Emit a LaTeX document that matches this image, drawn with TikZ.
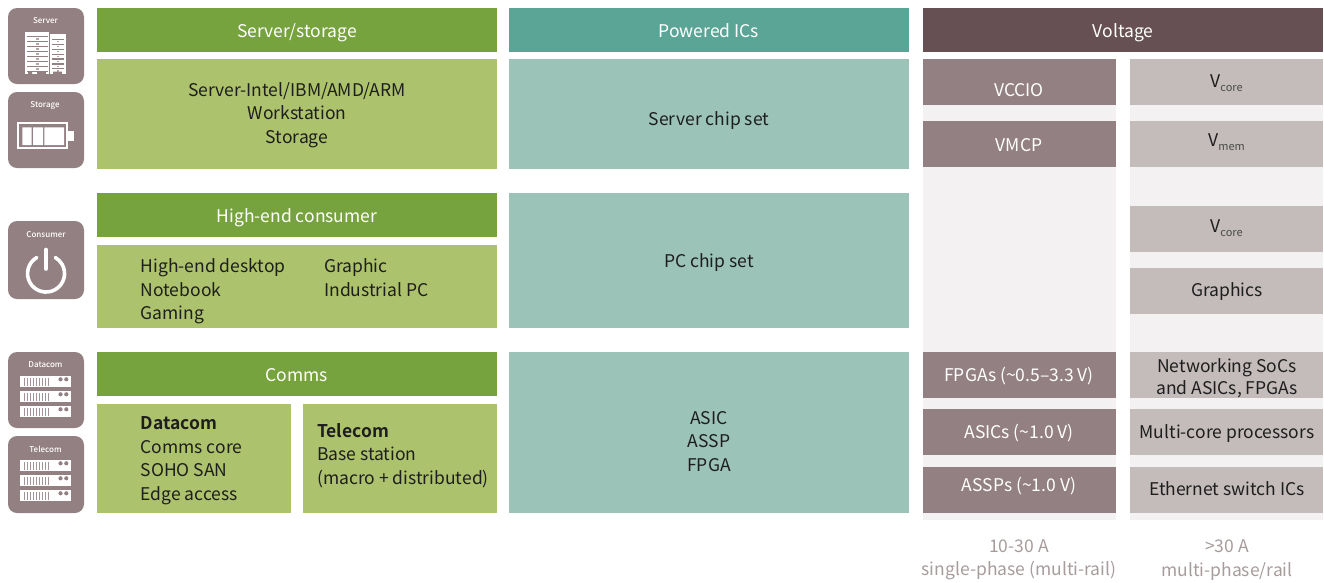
\documentclass[tikz,border=0pt]{standalone}
\usepackage{fontspec}
\setmainfont{Noto Sans CJK JP}
\newfontfamily\boldf{Noto Sans CJK JP Bold}
\newfontfamily\medf{Noto Sans CJK JP Medium}
\definecolor{dgreen}{HTML}{76A33D}
\definecolor{lgreen}{HTML}{ADC26C}
\definecolor{dteal}{HTML}{5BA596}
\definecolor{lteal}{HTML}{9BC3B8}
\definecolor{dbrown}{HTML}{675053}
\definecolor{mauve}{HTML}{938083}
\definecolor{lmauve}{HTML}{C4BBBB}
\definecolor{panelc}{HTML}{F3F1F2}
\definecolor{ink}{HTML}{1E1E1E}
\definecolor{graytxt}{HTML}{A79C9C}
\newcommand{\bx}[6]{\path[fill=#6] (#2,#3) rectangle (#4,#5) coordinate (#1);}
\newcommand{\rackrow}[2]{%
  \fill[white] (#1,#2) rectangle ++(51,11.5);
  \foreach \k in {0,...,8} \fill[mauve!85!white] ({#1+4+\k*3},#2+2) rectangle ++(1.5,8);
  \fill[mauve] (#1+41,#2+3.8) circle (2.1);
  \fill[mauve] (#1+46.8,#2+3.8) circle (2.1);}
\tikzset{x=1pt,y=-1pt,
  txt/.style={font=\fontsize{17.5}{23.5}\selectfont,text=ink,align=center,inner sep=0pt},
  ltxt/.style={txt,align=left,anchor=north west},
  wtxt/.style={txt,text=white},
  gtxt/.style={txt,text=graytxt},
  ictxt/.style={font=\fontsize{8}{9}\medf,text=white,inner sep=0pt},
  icon/.style={fill=mauve,rounded corners=9pt}}
\newcommand{\Vsub}[1]{V\raisebox{-3.5pt}{\fontsize{11}{12}\selectfont\color{ink!80!white}#1}}
\begin{document}
\begin{tikzpicture}
\useasboundingbox (0,0) rectangle (1324,582);
% icons
\path[icon] (8,8) rectangle (84,84);
\node[ictxt] (iserver) at (45.5,20.5) {Server};
\fill[white] (25.3,31.7) rectangle (49,74);
\fill[white] (50,34.3) rectangle (65.5,74);
\foreach \k in {0,...,7} {\fill[mauve] (27,{36.2+\k*5}) rectangle (47.5,{37.4+\k*5});}
\foreach \k in {0,...,6} {\fill[mauve] (51.5,{38.8+\k*4.9}) rectangle (64,{40+\k*4.9});}
\foreach \k in {0,...,6} {\fill[mauve!70!white] (35.5,{38.3+\k*5}) rectangle (38.5,{39.8+\k*5});
  \fill[mauve!70!white] (56.5,{41+\k*4.9}) rectangle (59,{42.4+\k*4.9});}
\fill[mauve] (28,71.7) rectangle (32,74) (37,71.7) rectangle (46,74) (53,71.7) rectangle (62,74);
\path[icon] (8,92) rectangle (84,168);
\node[ictxt] (istorage) at (45,105) {Storage};
\draw[white,line width=1.8pt] (18.2,123.2) rectangle (67,148.2);
\fill[white] (22.3,127.3) rectangle (31.7,145) (33,127.3) rectangle (43,145) (44.3,127.3) rectangle (64,145);
\fill[white] (68,131) rectangle (73.5,140.5);
\path[icon] (8,221) rectangle (84,299);
\node[ictxt] (iconsumer) at (46,235) {Consumer};
\draw[white,line width=3.6pt,line cap=round] (36.8,257.5) arc[start angle=120,end angle=420,radius=18.5pt];
\draw[white,line width=3.6pt,line cap=round] (46,249.5) -- (46,269);
\path[icon] (8,352) rectangle (84,428);
\node[ictxt] (idatacom) at (45.5,365) {Datacom};
\rackrow{19.5}{375.5}\rackrow{19.5}{390.5}\rackrow{19.5}{405.5}
\path[icon] (8,436) rectangle (84,513);
\node[ictxt] (itelecom) at (45.5,449.5) {Telecom};
\rackrow{19.5}{459.5}\rackrow{19.5}{474.5}\rackrow{19.5}{489.5}
% left column
\bx{a}{97}{8}{497}{52}{dgreen}
\node[wtxt] (t1) at (297,33) {Server/storage};
\bx{a}{97}{59}{497}{169}{lgreen}
\node[txt] (t2) at (297,115) {Server-Intel/IBM/AMD/ARM\\Workstation\\Storage};
\bx{a}{97}{193}{497}{237}{dgreen}
\node[wtxt] (t3) at (297,218) {High-end consumer};
\bx{a}{97}{245}{497}{328}{lgreen}
\node[ltxt] (t4) at (140.5,258.5) {High-end desktop\\Notebook\\Gaming};
\node[ltxt] (t5) at (324,258.5) {Graphic\\Industrial PC};
\bx{a}{97}{352}{497}{396}{dgreen}
\node[wtxt] (t6) at (297,375) {Comms};
\bx{a}{97}{404}{291}{513}{lgreen}
\node[ltxt] (t7) at (140.5,416.5) {{\boldf Datacom}\\Comms core\\SOHO SAN\\Edge access};
\bx{a}{303}{404}{497}{513}{lgreen}
\node[ltxt] (t8) at (317,423) {{\boldf Telecom}\\Base station\\(macro + distributed)};
% middle column
\bx{a}{509}{8}{909}{52}{dteal}
\node[wtxt] (t9) at (709,31) {Powered ICs};
\bx{a}{509}{59}{909}{169}{lteal}
\node[txt] (t10) at (709,121) {Server chip set};
\bx{a}{509}{193}{909}{328}{lteal}
\node[txt] (t11) at (709,263) {PC chip set};
\bx{a}{509}{352}{909}{513}{lteal}
\node[txt] (t12) at (709,441.5) {ASIC\\ASSP\\FPGA};
% right column
\bx{a}{923}{8}{1323}{52}{dbrown}
\node[wtxt] (t13) at (1123,33) {Voltage};
\bx{a}{923}{59}{1116}{520}{panelc}
\bx{a}{1130}{59}{1323}{520}{panelc}
\bx{a}{923}{59}{1116}{105}{mauve}
\node[wtxt] (v1) at (1019,90) {VCCIO};
\bx{a}{923}{121}{1116}{167}{mauve}
\node[wtxt] (v2) at (1019,145) {VMCP};
\bx{a}{923}{352}{1116}{398}{mauve}
\node[wtxt] (v3) at (1019,376) {FPGAs (\textasciitilde0.5–3.3 V)};
\bx{a}{923}{409}{1116}{455}{mauve}
\node[wtxt] (v4) at (1019,433) {ASICs (\textasciitilde1.0 V)};
\bx{a}{923}{467}{1116}{513}{mauve}
\node[wtxt] (v5) at (1019,486) {ASSPs (\textasciitilde1.0 V)};
\bx{a}{1130}{59}{1323}{105}{lmauve}
\node[txt] (w1) at (1226.5,83) {\Vsub{core}};
\bx{a}{1130}{121}{1323}{167}{lmauve}
\node[txt] (w2) at (1226.5,142) {\Vsub{mem}};
\bx{a}{1130}{206}{1323}{252}{lmauve}
\node[txt] (w3) at (1226.5,228) {\Vsub{core}};
\bx{a}{1130}{268}{1323}{314}{lmauve}
\node[txt] (w4) at (1227,292) {Graphics};
\bx{a}{1130}{352}{1323}{398}{lmauve}
\node[txt,font=\fontsize{17.5}{22}\selectfont] (w5) at (1227,378) {Networking SoCs\\and ASICs, FPGAs};
\bx{a}{1130}{409}{1323}{455}{lmauve}
\node[txt] (w6) at (1227,434) {Multi-core processors};
\bx{a}{1130}{467}{1323}{513}{lmauve}
\node[txt] (w7) at (1227,489) {Ethernet switch ICs};
\node[gtxt] (g1) at (1019,560) {10-30 A\\single-phase (multi-rail)};
\node[gtxt] (g2) at (1227,560) {>30 A\\multi-phase/rail};
\end{tikzpicture}
\end{document}
